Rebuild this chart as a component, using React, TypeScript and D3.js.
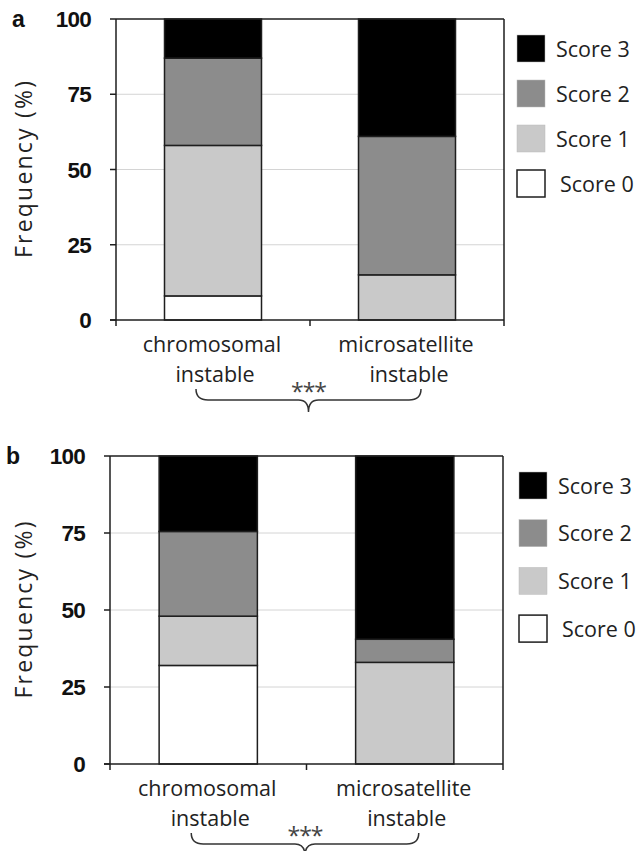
import React from "react";
import * as d3 from "d3";

const categories = ["chromosomal instable", "microsatellite instable"];
const categoryLines = [
  ["chromosomal", "instable"],
  ["microsatellite", "instable"],
];
const scoreKeys = ["Score 0", "Score 1", "Score 2", "Score 3"];
const yTicks = [0, 25, 50, 75, 100];

// Panel a: per category, percentage for each score
const panelAScore0 = [8, 0];
const panelAScore1 = [50, 15];
const panelAScore2 = [29, 46];
const panelAScore3 = [13, 39];

// Panel b
const panelBScore0 = [32, 0];
const panelBScore1 = [16, 33];
const panelBScore2 = [27.5, 7.5];
const panelBScore3 = [24.5, 59.5];

const significance = "***";
const yTitle = "Frequency (%)";

const fills: Record<string, string> = {
  "Score 0": "#ffffff",
  "Score 1": "#c9c9c9",
  "Score 2": "#8c8c8c",
  "Score 3": "#000000",
};

const FONT = "'Open Sans', 'Noto Sans', sans-serif";
const BOLD = "'Liberation Sans', Arial, sans-serif";
const STROKE = "#1e1e1e";

type Layout = {
  letter: string;
  left: number;
  right: number;
  top: number;
  bottom: number;
  legendGap: number;
  legendStep: number;
};

function buildRows(s0: number[], s1: number[], s2: number[], s3: number[]) {
  return categories.map((c, i) => ({
    category: c,
    "Score 0": s0[i],
    "Score 1": s1[i],
    "Score 2": s2[i],
    "Score 3": s3[i],
  }));
}

function Panel({ rows, layout }: { rows: any[]; layout: Layout }) {
  const { left, right, top, bottom } = layout;
  const x = d3
    .scaleBand<string>()
    .domain(categories)
    .range([left, right])
    .paddingInner(0.5)
    .paddingOuter(0.25);
  const y = d3.scaleLinear().domain([0, 100]).range([bottom, top]);
  const stack = d3.stack<any>().keys(scoreKeys);
  const series = stack(rows);
  const step = x.step();
  const c0 = (x(categories[0]) as number) + x.bandwidth() / 2;
  const c1 = (x(categories[1]) as number) + x.bandwidth() / 2;

  // brace
  const bx1 = c0 - 17;
  const bx2 = c1 + 14;
  const bTop = bottom + 69;
  const bLine = bottom + 80;
  const bTip = bottom + 92;
  const bMid = (bx1 + bx2) / 2;
  const p = d3.path();
  p.moveTo(bx1, bTop);
  p.quadraticCurveTo(bx1, bLine, bx1 + 12, bLine);
  p.lineTo(bMid - 10, bLine);
  p.quadraticCurveTo(bMid, bLine, bMid, bTip);
  p.quadraticCurveTo(bMid, bLine, bMid + 10, bLine);
  p.lineTo(bx2 - 12, bLine);
  p.quadraticCurveTo(bx2, bLine, bx2, bTop);

  const legendX = right + layout.legendGap;
  const legendKeys = [...scoreKeys].reverse();

  return (
    <g>
      {/* gridlines */}
      {yTicks
        .filter((t) => t > 0 && t < 100)
        .map((t) => (
          <line key={"g" + t} x1={left} x2={right} y1={y(t)} y2={y(t)} stroke="#d4d4d4" strokeWidth={1} />
        ))}
      {/* bars */}
      {series.map((s) =>
        s.map((d, i) =>
          d[1] - d[0] > 0 ? (
            <rect
              key={s.key + i}
              x={x(categories[i])}
              width={x.bandwidth()}
              y={y(d[1])}
              height={y(d[0]) - y(d[1])}
              fill={fills[s.key]}
              stroke={STROKE}
              strokeWidth={1.5}
            />
          ) : null
        )
      )}
      {/* frame */}
      <line x1={left} x2={right} y1={top} y2={top} stroke={STROKE} strokeWidth={1.5} />
      <line x1={right} x2={right} y1={top} y2={bottom + 6} stroke={STROKE} strokeWidth={1.5} />
      <line x1={left} x2={left} y1={top} y2={bottom + 6} stroke={STROKE} strokeWidth={1.5} />
      <line x1={left - 6} x2={right} y1={bottom} y2={bottom} stroke={STROKE} strokeWidth={1.5} />
      <line x1={left + step} x2={left + step} y1={bottom} y2={bottom + 6} stroke={STROKE} strokeWidth={1.5} />
      {/* y ticks */}
      {yTicks.map((t) => (
        <g key={"t" + t}>
          <line x1={left - 6} x2={left} y1={y(t)} y2={y(t)} stroke={STROKE} strokeWidth={1.5} />
          <text
            x={left - 25}
            y={y(t)}
            dy="0.36em"
            textAnchor="end"
            fontFamily={BOLD}
            fontWeight="bold"
            fontSize={22.5}
            letterSpacing={-0.8}
            fill="#111"
          >
            {t}
          </text>
        </g>
      ))}
      {/* panel letter */}
      <text x={left - 104} y={top + 8} fontFamily={BOLD} fontWeight="bold" fontSize={23} fill="#111">
        {layout.letter}
      </text>
      {/* y title */}
      <text
        transform={`translate(32,${(top + bottom) / 2}) rotate(-90)`}
        textAnchor="middle"
        fontFamily={FONT}
        fontSize={23}
        textLength={177}
        lengthAdjust="spacing"
        fill="#222"
      >
        {yTitle}
      </text>
      {/* category labels */}
      {categoryLines.map((lines, i) => {
        const cx = (x(categories[i]) as number) + x.bandwidth() / 2;
        return lines.map((ln, j) => (
          <text
            key={i + "-" + j}
            x={cx - (j === 0 ? 1 : -2)}
            y={bottom + 31.5 + j * 30.5}
            textAnchor="middle"
            fontFamily={FONT}
            fontSize={21.5}
            fill="#222"
          >
            {ln}
          </text>
        ));
      })}
      {/* brace */}
      <path d={p.toString()} fill="none" stroke="#333" strokeWidth={1.5} />
      <text
        x={bMid}
        y={bottom + 80}
        textAnchor="middle"
        fontFamily={FONT}
        fontSize={23}
        letterSpacing={-1}
        fill="#444"
      >
        {significance}
      </text>
      {/* legend */}
      {legendKeys.map((k, i) => {
        const ly = top + 16 + i * layout.legendStep;
        return (
          <g key={k}>
            <rect
              x={legendX}
              y={ly}
              width={28}
              height={27}
              fill={fills[k]}
              stroke={k === "Score 0" ? STROKE : "#bbb"}
              strokeWidth={k === "Score 0" ? 1.5 : 0.5}
            />
            <text
              x={legendX + 39 + (k === "Score 0" ? 4 : 0)}
              y={ly + 14}
              dy="0.36em"
              fontFamily={FONT}
              fontSize={21.5}
              fill="#222"
            >
              {k}
            </text>
          </g>
        );
      })}
    </g>
  );
}

const layoutA: Layout = { letter: "a", left: 116, right: 504, top: 19, bottom: 320, legendGap: 13, legendStep: 45 };
const layoutB: Layout = { letter: "b", left: 110, right: 503, top: 456, bottom: 764, legendGap: 16, legendStep: 47.7 };

export default function App() {
  const rowsA = buildRows(panelAScore0, panelAScore1, panelAScore2, panelAScore3);
  const rowsB = buildRows(panelBScore0, panelBScore1, panelBScore2, panelBScore3);
  return (
    <svg
      width={639}
      height={851}
      style={{ position: "absolute", left: 0, top: 0, background: "#fff" }}
    >
      <rect width={639} height={851} fill="#fff" />
      <Panel rows={rowsA} layout={layoutA} />
      <Panel rows={rowsB} layout={layoutB} />
    </svg>
  );
}
